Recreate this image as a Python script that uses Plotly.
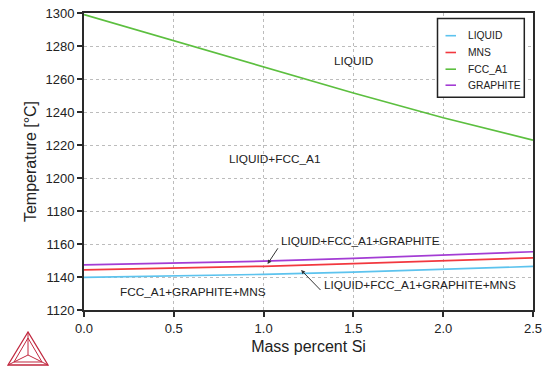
import plotly.graph_objects as go

si = [0.0, 0.5, 1.0, 1.5, 2.0, 2.5]
liquid = [1139.8, 1140.6, 1141.6, 1142.9, 1144.6, 1146.4]
mns = [1144.3, 1145.2, 1146.5, 1148.1, 1149.8, 1151.6]
fcc_a1 = [1299.0, 1283.2, 1267.5, 1251.5, 1236.5, 1223.0]
graphite = [1147.3, 1148.3, 1149.6, 1151.3, 1153.2, 1155.3]

names = ["LIQUID", "MNS", "FCC_A1", "GRAPHITE"]
series = [liquid, mns, fcc_a1, graphite]
colors = ["#5cc3ee", "#f2383f", "#5cbf3f", "#a33cd4"]

x_ticks = [0.0, 0.5, 1.0, 1.5, 2.0, 2.5]
y_ticks = [1120, 1140, 1160, 1180, 1200, 1220, 1240, 1260, 1280, 1300]

fig = go.Figure()
for n, s, c in zip(names, series, colors):
    fig.add_trace(go.Scatter(x=si, y=s, mode="lines", name=n,
                             line=dict(color=c, width=1.7), showlegend=False))

FONT = "Liberation Sans, Arial, sans-serif"
L, R, T, B = 84, 533, 13, 310
W, H = R - L, B - T

def px(xp):
    return (xp - L) / W

def py(yp):
    return (B - yp) / H

shapes = []
annotations = []

# manual legend
shapes.append(dict(type="rect", xref="paper", yref="paper",
                   x0=px(437.5), x1=px(524.3), y0=py(18.5), y1=py(97.3),
                   line=dict(color="#222", width=1.5), fillcolor="white", layer="above"))
leg_y = [35.7, 52.5, 69.2, 85.2]
for n, c, yy in zip(names, colors, leg_y):
    shapes.append(dict(type="line", xref="paper", yref="paper",
                       x0=px(445.5), x1=px(456), y0=py(yy), y1=py(yy),
                       line=dict(color=c, width=1.6), layer="above"))
    annotations.append(dict(xref="paper", yref="paper", x=px(465.5), y=py(yy),
                            xanchor="left", yanchor="middle", text=n, showarrow=False,
                            font=dict(family=FONT, size=10.3, color="#222")))

# region labels
labels = [
    ("LIQUID", 1.503, 1271),
    ("LIQUID+FCC_A1", 1.063, 1211.3),
    ("LIQUID+FCC_A1+GRAPHITE", 1.537, 1162),
    ("LIQUID+FCC_A1+GRAPHITE+MNS", 1.871, 1135.2),
    ("FCC_A1+GRAPHITE+MNS", 0.606, 1131.1),
]
for t, xx, yy in labels:
    annotations.append(dict(x=xx, y=yy, text=t, showarrow=False,
                            font=dict(family=FONT, size=11.8, color="#222")))

# arrows
annotations.append(dict(x=1.022, y=1147.9, ax=1.085, ay=1158.3, axref="x", ayref="y",
                        text="", showarrow=True, arrowhead=2, arrowsize=0.8,
                        arrowwidth=1, arrowcolor="#333"))
annotations.append(dict(x=1.209, y=1144.2, ax=1.325, ay=1131.2, axref="x", ayref="y",
                        text="", showarrow=True, arrowhead=2, arrowsize=0.8,
                        arrowwidth=1, arrowcolor="#333"))

# logo (Thermo-Calc style triangle)
lc = "#c1283f"
tx, ty = 28, 332
blx, bly = 8, 365
brx, bry = 48, 365
cx, cy = 28, 355
def tri_path(pts):
    s = "M %f %f " % (px(pts[0][0]), py(pts[0][1]))
    for p in pts[1:]:
        s += "L %f %f " % (px(p[0]), py(p[1]))
    return s + "Z"
shapes.append(dict(type="path", xref="paper", yref="paper",
                   path=tri_path([(tx, ty), (blx, bly), (brx, bry)]),
                   line=dict(color=lc, width=1.3)))
shapes.append(dict(type="path", xref="paper", yref="paper",
                   path=tri_path([(tx, ty + 6), (blx + 6, bly - 3), (brx - 6, bry - 3)]),
                   line=dict(color=lc, width=1)))
for (vx, vy) in [(tx, ty), (blx, bly), (brx, bry)]:
    shapes.append(dict(type="line", xref="paper", yref="paper",
                       x0=px(vx), y0=py(vy), x1=px(cx), y1=py(cy),
                       line=dict(color=lc, width=1)))

fig.update_layout(
    width=550, height=375,
    margin=dict(l=L, r=550 - R, t=T, b=375 - B, autoexpand=False),
    paper_bgcolor="white", plot_bgcolor="white",
    font=dict(family=FONT, color="#222"),
    shapes=shapes, annotations=annotations,
    xaxis=dict(range=[0, 2.5], tickvals=x_ticks, ticktext=["%.1f" % v for v in x_ticks],
               showgrid=True, gridcolor="#bcbcbc", griddash="dot", gridwidth=1,
               showline=True, linecolor="#2a2a2a", linewidth=1.8, mirror=True,
               ticks="outside", ticklen=5, tickcolor="#2a2a2a", tickwidth=1.5,
               tickfont=dict(size=13), zeroline=False, automargin=False,
               title=dict(text="Mass percent Si", font=dict(size=16), standoff=6)),
    yaxis=dict(range=[1120, 1300], tickvals=y_ticks,
               showgrid=True, gridcolor="#bcbcbc", griddash="dot", gridwidth=1,
               showline=True, linecolor="#2a2a2a", linewidth=1.8, mirror=True,
               ticks="outside", ticklen=5, tickcolor="#2a2a2a", tickwidth=1.5,
               tickfont=dict(size=13), zeroline=False, automargin=False,
               title=dict(text="Temperature [°C]", font=dict(size=16), standoff=5)),
)

fig.write_html("out.html", config={"displayModeBar": False},
               post_script="document.body.style.margin='0';document.body.style.overflow='hidden';")
